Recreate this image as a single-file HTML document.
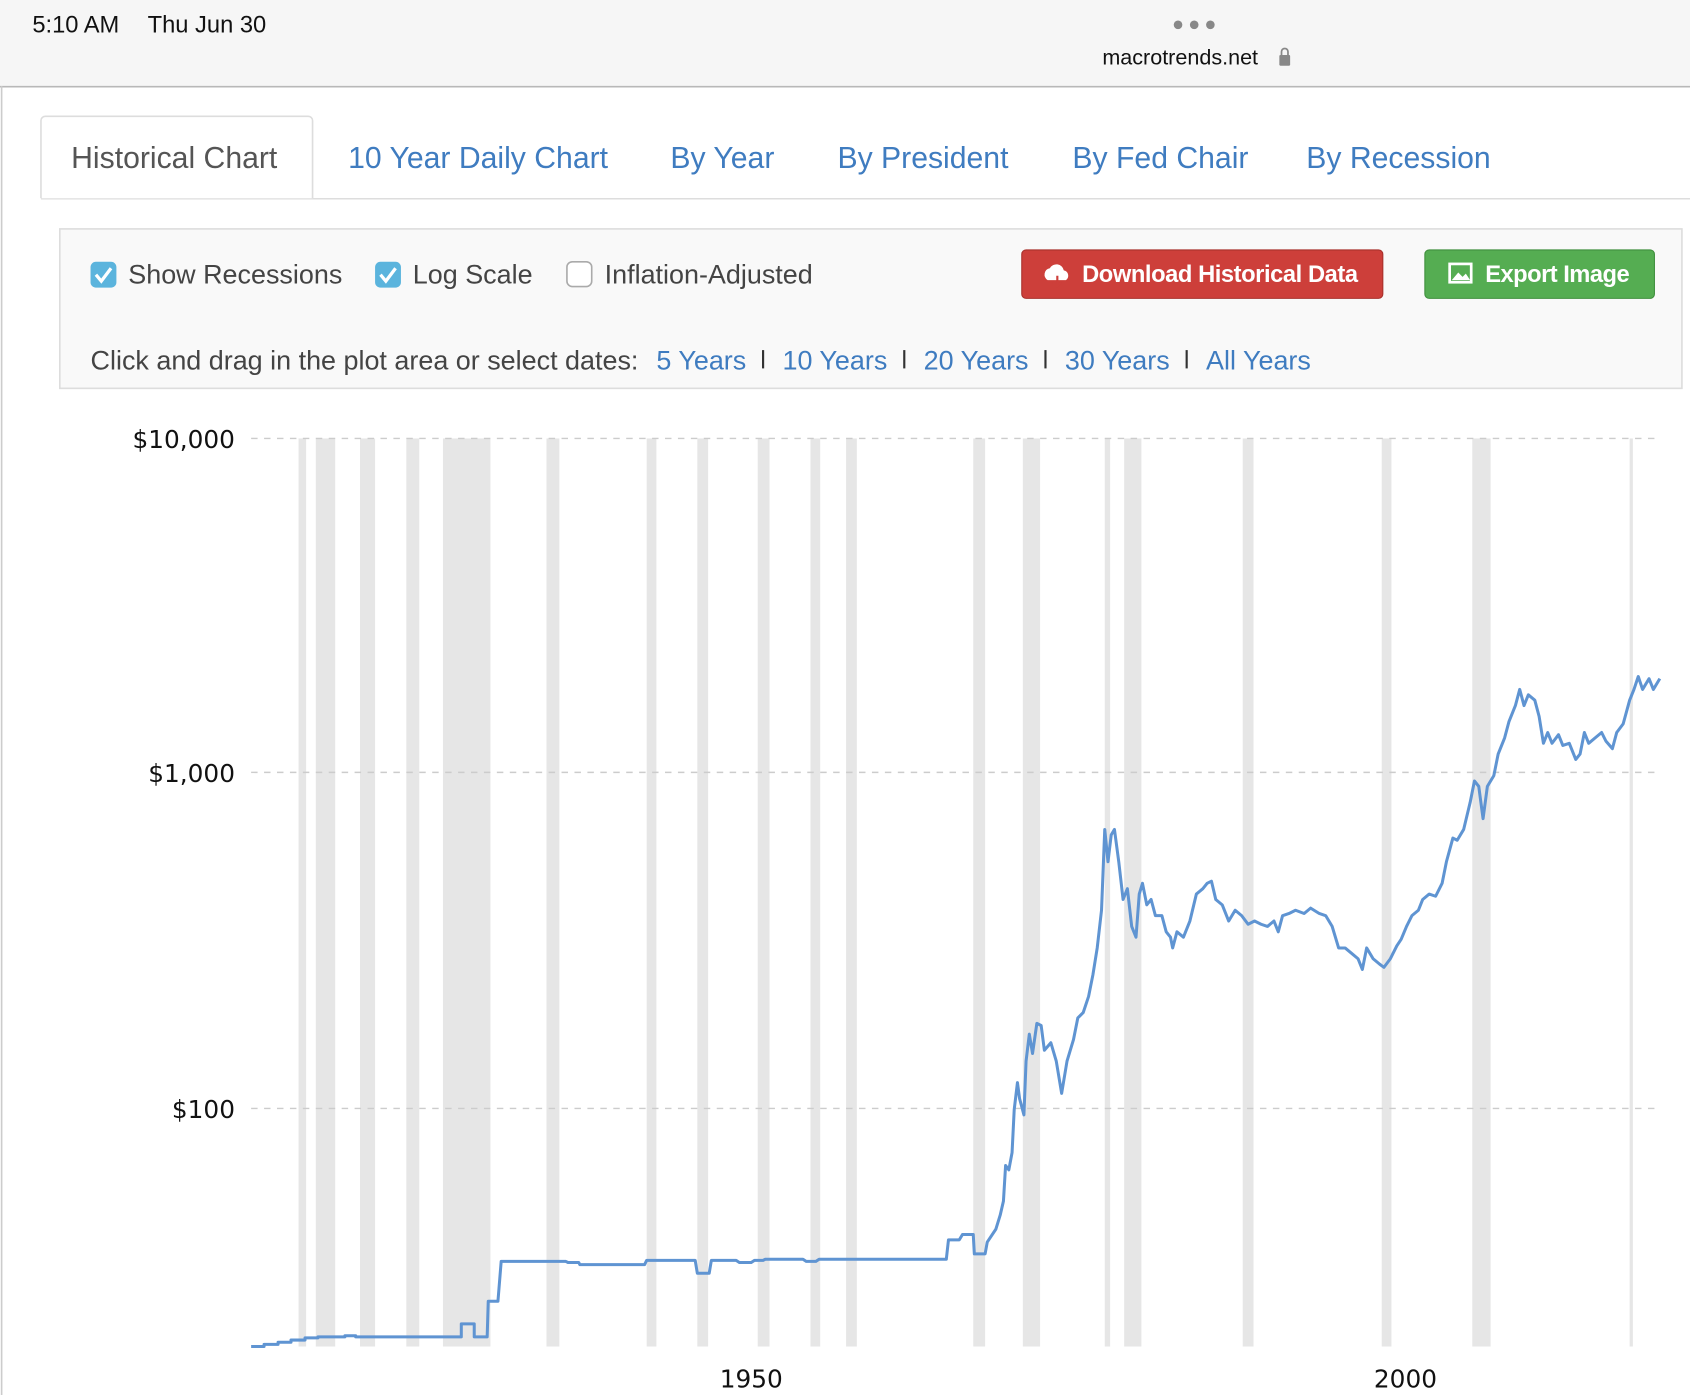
<!DOCTYPE html>
<html><head><meta charset="utf-8"><style>
html,body{margin:0;padding:0;background:#fff;width:1690px;height:1395px;overflow:hidden}
svg{display:block}
text{font-family:"Liberation Sans",sans-serif}
.dj text{font-family:"DejaVu Sans","Liberation Sans",sans-serif}
</style></head><body>
<svg width="1690" height="1395" viewBox="0 0 1568 1295" preserveAspectRatio="none" xmlns="http://www.w3.org/2000/svg">
<rect x="0" y="0" width="1568" height="80" fill="#f6f6f6"/>
<line x1="0" y1="80.5" x2="1568" y2="80.5" stroke="#b8b8b8" stroke-width="1.5"/>
<line x1="1.5" y1="80" x2="1.5" y2="1295" stroke="#ccc" stroke-width="1.5"/>
<text x="30" y="30" font-size="22" fill="#111">5:10 AM</text>
<text x="137" y="30" font-size="22" fill="#111">Thu Jun 30</text>
<circle cx="1093" cy="23" r="4" fill="#888"/><circle cx="1108" cy="23" r="4" fill="#888"/><circle cx="1123" cy="23" r="4" fill="#888"/>
<text x="1095" y="60" font-size="20" fill="#111" text-anchor="middle">macrotrends.net</text>
<rect x="1187" y="51" width="10" height="10" rx="1" fill="#888"/><path d="M1189,51 v-3 a3,3 0 0 1 6,0 v3" fill="none" stroke="#888" stroke-width="1.6"/>
<line x1="38" y1="184.5" x2="1568" y2="184.5" stroke="#ddd" stroke-width="1.5"/>
<path d="M38,184 V112 a4,4 0 0 1 4,-4 H286 a4,4 0 0 1 4,4 V184" fill="#fff" stroke="#ddd" stroke-width="1.5"/>
<g font-size="28">
<text x="66" y="156" fill="#555">Historical Chart</text>
<text x="323" y="156" fill="#3f7cc0">10 Year Daily Chart</text>
<text x="622" y="156" fill="#3f7cc0">By Year</text>
<text x="777" y="156" fill="#3f7cc0">By President</text>
<text x="995" y="156" fill="#3f7cc0">By Fed Chair</text>
<text x="1212" y="156" fill="#3f7cc0">By Recession</text>
</g>
<rect x="55.5" y="212.5" width="1505" height="148" fill="#f9f9f9" stroke="#ddd" stroke-width="1.5"/>
<rect x="84" y="243" width="24" height="24" rx="5" fill="#5bb4dd"/><path d="M89,255 l5,6 l9,-12" fill="none" stroke="#fff" stroke-width="3"/>
<rect x="348" y="243" width="24" height="24" rx="5" fill="#5bb4dd"/><path d="M353,255 l5,6 l9,-12" fill="none" stroke="#fff" stroke-width="3"/>
<rect x="526" y="243" width="23" height="23" rx="5" fill="#fff" stroke="#aaa" stroke-width="1.5"/>
<g font-size="25" fill="#444">
<text x="119" y="263">Show Recessions</text>
<text x="383" y="263">Log Scale</text>
<text x="561" y="263">Inflation-Adjusted</text>
<text x="84" y="343">Click and drag in the plot area or select dates:</text>
</g>
<g font-size="25" fill="#3f7cc0">
<text x="609" y="343">5 Years</text>
<text x="726" y="343">10 Years</text>
<text x="857" y="343">20 Years</text>
<text x="988" y="343">30 Years</text>
<text x="1119" y="343">All Years</text>
</g>
<g stroke="#333" stroke-width="2"><line x1="708" y1="325" x2="708" y2="342"/><line x1="839" y1="325" x2="839" y2="342"/><line x1="970" y1="325" x2="970" y2="342"/><line x1="1101" y1="325" x2="1101" y2="342"/></g>
<rect x="948" y="232" width="335" height="45" rx="4" fill="#cd3f3a" stroke="#a8302b"/>
<path d="M972,260 a6,6 0 0 1 2,-11 a7,7 0 0 1 13,2 a5,5 0 0 1 2,9 z" fill="#fff"/><path d="M981,256 v10 m-4,-4 l4,4 l4,-4" stroke="#cd3f3a" stroke-width="2" fill="none"/>
<text x="1004" y="262" font-size="22" font-weight="bold" fill="#fff" textLength="256">Download Historical Data</text>
<rect x="1322" y="232" width="213" height="45" rx="4" fill="#55ad52" stroke="#3f8f3d"/>
<rect x="1345" y="245" width="20" height="17" fill="none" stroke="#fff" stroke-width="2.5"/><path d="M1347,260 l6,-7 l4,4 l3,-3 l4,6z" fill="#fff"/>
<text x="1378" y="262" font-size="22" font-weight="bold" fill="#fff" textLength="134">Export Image</text>
<g fill="#e6e6e6">
<rect x="277" y="407" width="7" height="843"/><rect x="293" y="407" width="18" height="843"/><rect x="334" y="407" width="14" height="843"/><rect x="377" y="407" width="12" height="843"/><rect x="411" y="407" width="44" height="843"/><rect x="507" y="407" width="12" height="843"/><rect x="600" y="407" width="9" height="843"/><rect x="647" y="407" width="10" height="843"/><rect x="703" y="407" width="11" height="843"/><rect x="752" y="407" width="9" height="843"/><rect x="785" y="407" width="10" height="843"/><rect x="903" y="407" width="11" height="843"/><rect x="949" y="407" width="16" height="843"/><rect x="1025" y="407" width="5" height="843"/><rect x="1043" y="407" width="16" height="843"/><rect x="1153" y="407" width="10" height="843"/><rect x="1282" y="407" width="9" height="843"/><rect x="1366" y="407" width="17" height="843"/><rect x="1512" y="407" width="3" height="843"/>
</g>
<g stroke="#ccc" stroke-width="1.3" stroke-dasharray="6,6">
<line x1="233" y1="407" x2="1540" y2="407"/><line x1="233" y1="717" x2="1540" y2="717"/><line x1="233" y1="1029" x2="1540" y2="1029"/>
</g>
<g font-size="23" fill="#111" text-anchor="end" class="dj">
<text x="218" y="416">$10,000</text><text x="218" y="726">$1,000</text><text x="218" y="1038">$100</text>
</g>
<g font-size="23" fill="#111" text-anchor="middle" class="dj">
<text x="697" y="1288">1950</text><text x="1304" y="1288">2000</text>
</g>
<path fill="none" stroke="#5f94d2" stroke-width="2.8" stroke-linejoin="round" d="M233,1250 L245,1250 L245,1248 L258,1248 L258,1246 L270,1246 L270,1244 L283,1244 L283,1242 L295,1242 L295,1241 L320,1241 L320,1240 L330,1240 L330,1241 L428,1241 L428,1229 L440,1229 L440,1241 L452,1241 L453,1208 L462,1208 L465,1171 L525,1171 L527,1172 L537,1172 L538,1174 L598,1174 L600,1170 L645,1170 L647,1182 L658,1182 L660,1170 L683,1170 L686,1172 L697,1172 L700,1170 L708,1170 L710,1169 L745,1169 L748,1171 L757,1171 L760,1169 L878,1169 L880,1151 L890,1151 L893,1146 L903,1146 L904,1164 L914,1164 L916,1153 L924,1141 L928,1128 L931,1115 L933,1082 L936,1086 L939,1070 L941,1030 L944,1005 L946,1020 L950,1035 L952,985 L955,960 L958,978 L962,950 L966,952 L969,975 L975,968 L980,985 L985,1015 L990,985 L996,965 L1000,945 L1005,940 L1010,925 L1014,905 L1018,880 L1022,845 L1025,770 L1028,800 L1031,775 L1034,770 L1038,800 L1042,835 L1046,825 L1050,860 L1054,870 L1057,830 L1060,820 L1064,840 L1068,835 L1072,850 L1078,850 L1082,865 L1086,870 L1088,880 L1092,865 L1098,870 L1104,855 L1110,830 L1116,825 L1120,820 L1124,818 L1128,835 L1134,840 L1140,855 L1146,845 L1152,850 L1158,858 L1164,855 L1170,858 L1176,860 L1182,855 L1186,865 L1190,850 L1196,848 L1202,845 L1210,848 L1216,843 L1224,848 L1230,850 L1236,860 L1242,880 L1248,880 L1254,885 L1260,890 L1264,900 L1268,880 L1274,890 L1280,895 L1284,898 L1290,890 L1296,878 L1300,872 L1305,860 L1310,850 L1316,845 L1320,835 L1326,830 L1332,832 L1338,820 L1342,800 L1348,778 L1352,780 L1358,770 L1364,745 L1368,725 L1372,730 L1376,760 L1380,730 L1386,720 L1390,700 L1396,685 L1400,670 L1406,655 L1410,640 L1414,655 L1418,645 L1424,650 L1428,665 L1432,690 L1436,680 L1440,690 L1446,682 L1450,692 L1456,690 L1462,705 L1466,700 L1470,680 L1474,690 L1480,685 L1486,680 L1490,688 L1496,695 L1500,680 L1506,672 L1512,650 L1516,640 L1520,628 L1524,640 L1530,630 L1534,640 L1540,630"/>
</svg>
</body></html>
